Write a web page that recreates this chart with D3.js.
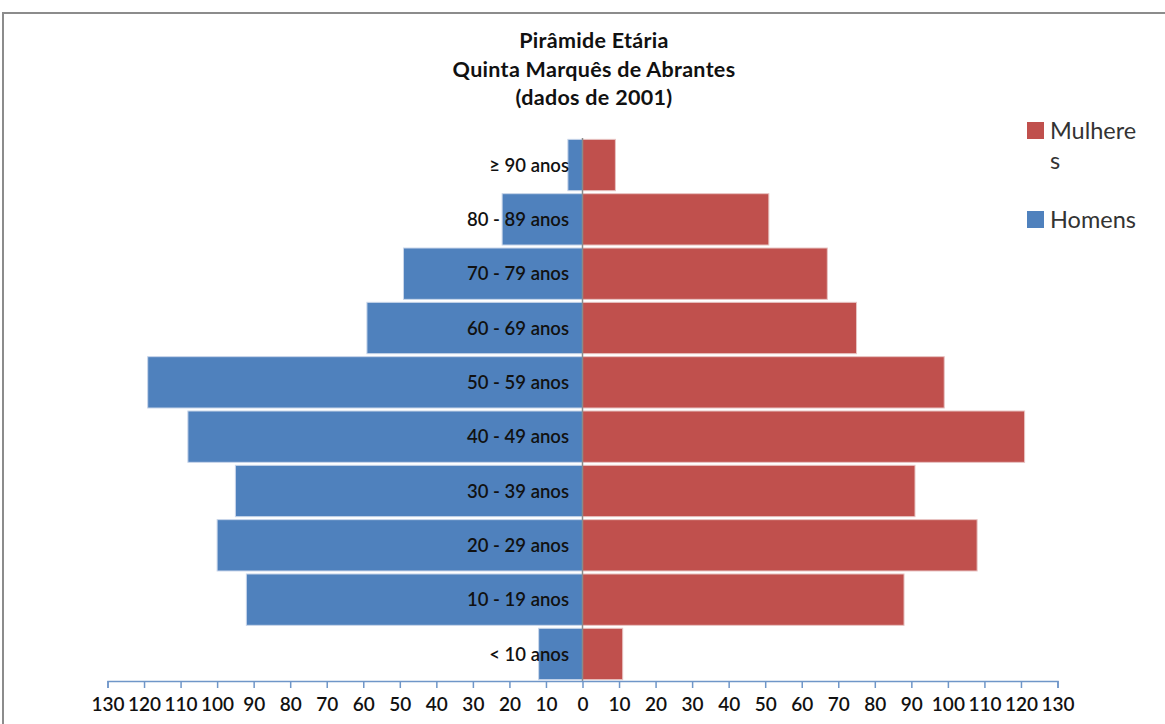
<!DOCTYPE html>
<html>
<head>
<meta charset="utf-8">
<script src="https://cdn.jsdelivr.net/npm/d3@7"></script>
<style>
  html, body { margin: 0; padding: 0; background: #fff; }
  svg { display: block; }
  text { font-family: Lato, "Open Sans", sans-serif; }
</style>
</head>
<body>
<svg id="chart" width="1165" height="724"></svg>
<script>
const categories = ["≥ 90 anos", "80 - 89 anos", "70 - 79 anos", "60 - 69 anos", "50 - 59 anos",
                    "40 - 49 anos", "30 - 39 anos", "20 - 29 anos", "10 - 19 anos", "< 10 anos"];
const homens   = [4, 22, 49, 59, 119, 108, 95, 100, 92, 12];
const mulheres = [9, 51, 67, 75, 99, 121, 91, 108, 88, 11];
const tickValues = [-130,-120,-110,-100,-90,-80,-70,-60,-50,-40,-30,-20,-10,0,10,20,30,40,50,60,70,80,90,100,110,120,130];
const titleLines = ["Pirâmide Etária", "Quinta Marquês de Abrantes", "(dados de 2001)"];
const seriesNames = ["Mulheres", "Homens"];

const svg = d3.select("#chart");
const colH = "#4F81BD", colM = "#C0504D";

// outer frame
svg.append("rect").attr("x", 3).attr("y", 13).attr("width", 1200).attr("height", 760)
  .attr("fill", "none").attr("stroke", "#8c8c8c").attr("stroke-width", 2);

const x = d3.scaleLinear().domain([-130, 130]).range([107.5, 1057.5]);
const y = d3.scaleBand().domain(categories).range([138, 681]).paddingInner(0.055).paddingOuter(0.025);

// bars: homens (left)
svg.append("g").selectAll("rect").data(categories).join("rect")
  .attr("x", (d, i) => x(-homens[i]))
  .attr("y", d => y(d))
  .attr("width", (d, i) => x(0) - x(-homens[i]))
  .attr("height", y.bandwidth())
  .attr("fill", colH)
  .attr("stroke", "#c9d6ea").attr("stroke-width", 1);

// bars: mulheres (right)
svg.append("g").selectAll("rect").data(categories).join("rect")
  .attr("x", x(0))
  .attr("y", d => y(d))
  .attr("width", (d, i) => x(mulheres[i]) - x(0))
  .attr("height", y.bandwidth())
  .attr("fill", colM)
  .attr("stroke", "#e8c4c3").attr("stroke-width", 1);

// center vertical axis
svg.append("line").attr("x1", x(0)).attr("x2", x(0)).attr("y1", 138).attr("y2", 681)
  .attr("stroke", "#8a8a8a").attr("stroke-width", 1.5);

// category labels
svg.append("g").selectAll("text").data(categories).join("text")
  .attr("x", 569)
  .attr("y", d => y(d) + y.bandwidth() / 2)
  .attr("dy", "0.36em")
  .attr("text-anchor", "end")
  .attr("font-size", 18.5)
  .attr("font-weight", 600)
  .attr("fill", "#111")
  .text(d => d);

// bottom axis
const axis = d3.axisBottom(x).tickValues(tickValues).tickSize(7).tickPadding(10)
  .tickFormat(d => Math.abs(d));
const gAxis = svg.append("g").attr("transform", "translate(0,681)").call(axis);
gAxis.select(".domain").attr("stroke", "#6f96c8").attr("stroke-width", 1.5);
gAxis.selectAll(".tick line").attr("stroke", "#6f96c8").attr("stroke-width", 1.5);
gAxis.selectAll(".tick text").attr("font-size", 19).attr("font-weight", 600)
  .attr("fill", "#111").style("font-family", "Lato, sans-serif");

// title
svg.append("g").selectAll("text").data(titleLines).join("text")
  .attr("x", 594)
  .attr("y", (d, i) => 48 + i * 28.5)
  .attr("text-anchor", "middle")
  .attr("font-size", 21.5)
  .attr("font-weight", 700)
  .attr("letter-spacing", 0.3)
  .attr("fill", "#111")
  .text(d => d);

// legend
const leg = svg.append("g");
leg.append("rect").attr("x", 1027).attr("y", 122).attr("width", 17).attr("height", 17).attr("fill", colM);
leg.append("text").attr("x", 1050).attr("y", 139).attr("font-size", 23.5).attr("fill", "#333").text("Mulhere");
leg.append("text").attr("x", 1050).attr("y", 169).attr("font-size", 23.5).attr("fill", "#333").text("s");
leg.append("rect").attr("x", 1027).attr("y", 211).attr("width", 17).attr("height", 17).attr("fill", colH);
leg.append("text").attr("x", 1050).attr("y", 228).attr("font-size", 23.5).attr("fill", "#333").text(seriesNames[1]);
</script>
</body>
</html>
